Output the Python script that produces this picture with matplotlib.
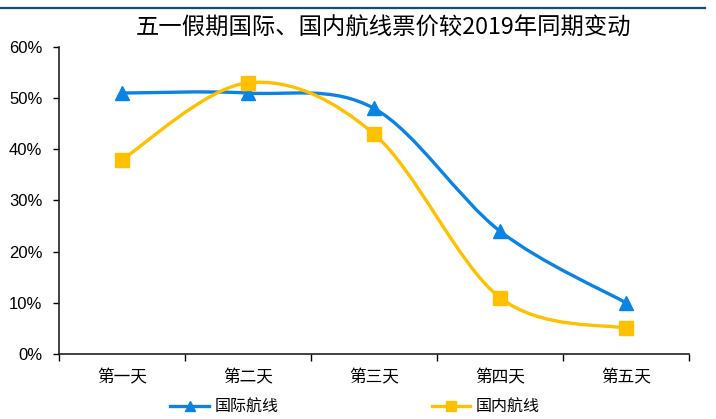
import matplotlib
matplotlib.use("Agg")
import matplotlib.pyplot as plt
import numpy as np
from matplotlib.lines import Line2D
from matplotlib.path import Path
from matplotlib.patches import PathPatch

plt.rcParams['font.family'] = ['Noto Sans CJK SC', 'DejaVu Sans']

# Fare change vs. same period in 2019, by holiday day
days = ['第一天', '第二天', '第三天', '第四天', '第五天']
intl_pct = [51, 51, 48, 24, 10]
dom_pct = [38, 53, 43, 11, 5]

BLUE = '#0A84E4'
GOLD = '#FFC000'


def smooth_path(xs, ys):
    """Catmull-Rom style cubic Bezier path through the points (spreadsheet smoothing)."""
    pts = np.column_stack([xs, ys]).astype(float)
    ext = np.vstack([pts[0], pts, pts[-1]])
    verts = [tuple(pts[0])]
    codes = [Path.MOVETO]
    for i in range(1, len(ext) - 2):
        p0, p1, p2, p3 = ext[i - 1], ext[i], ext[i + 1], ext[i + 2]
        c1 = p1 + (p2 - p0) / 6.0
        c2 = p2 - (p3 - p1) / 6.0
        verts += [tuple(c1), tuple(c2), tuple(p2)]
        codes += [Path.CURVE4] * 3
    return Path(verts, codes)


fig = plt.figure(figsize=(7.16, 4.19), dpi=100)
ax = fig.add_axes([59 / 716, 65 / 419, 630 / 716, 307 / 419])

x = np.arange(len(days))
for vals, color, marker, ms, name in [
    (intl_pct, BLUE, '^', 10, '国际航线'),
    (dom_pct, GOLD, 's', 9.5, '国内航线'),
]:
    y = np.array(vals) / 100.0
    ax.add_patch(PathPatch(smooth_path(x, y), facecolor='none', edgecolor=color,
                           lw=2.4, capstyle='round', zorder=3))
    ax.plot(x, y, linestyle='none', marker=marker, markersize=ms, color=color,
            markeredgecolor=color, zorder=4)

ax.set_xlim(-0.5, len(days) - 0.5)
ax.set_ylim(0, 0.6)
ax.set_yticks(np.arange(0, 0.61, 0.1))
ax.set_yticklabels([f'{int(round(v * 100))}%' for v in np.arange(0, 0.61, 0.1)],
                   family='Liberation Sans', fontsize=12)
ax.set_xticks(x)
ax.set_xticklabels(days, fontsize=12)
ax.set_xticks(np.arange(-0.5, len(days)), minor=True)
ax.tick_params(axis='x', which='major', length=0, pad=11)
ax.tick_params(axis='x', which='minor', length=5, width=1, direction='out')
ax.tick_params(axis='y', length=4, width=1, direction='out', pad=8)

for side in ['top', 'right']:
    ax.spines[side].set_visible(False)
for side in ['left', 'bottom']:
    ax.spines[side].set_color('#222222')
    ax.spines[side].set_linewidth(1.2)

fig.text(384 / 716, 1 - 28 / 419, '五一假期国际、国内航线票价较2019年同期变动',
         ha='center', va='center', fontsize=16.8)

# header rule across the top
fig.add_artist(Line2D([0, 705 / 716], [1 - 8 / 419] * 2, color='#0E4E78', lw=1.6))

handles = [
    Line2D([0], [0], color=BLUE, lw=2.4, marker='^', markersize=7, label='国际航线'),
    Line2D([0], [0], color=GOLD, lw=2.4, marker='s', markersize=7, label='国内航线'),
]
fig.legend(handles=handles, loc='center', bbox_to_anchor=(355 / 716, 1 - 407 / 419),
           ncol=2, frameon=False, fontsize=11.5, handlelength=2.4, handletextpad=0.35,
           columnspacing=9.6)

fig.savefig('out.png', dpi=100)
